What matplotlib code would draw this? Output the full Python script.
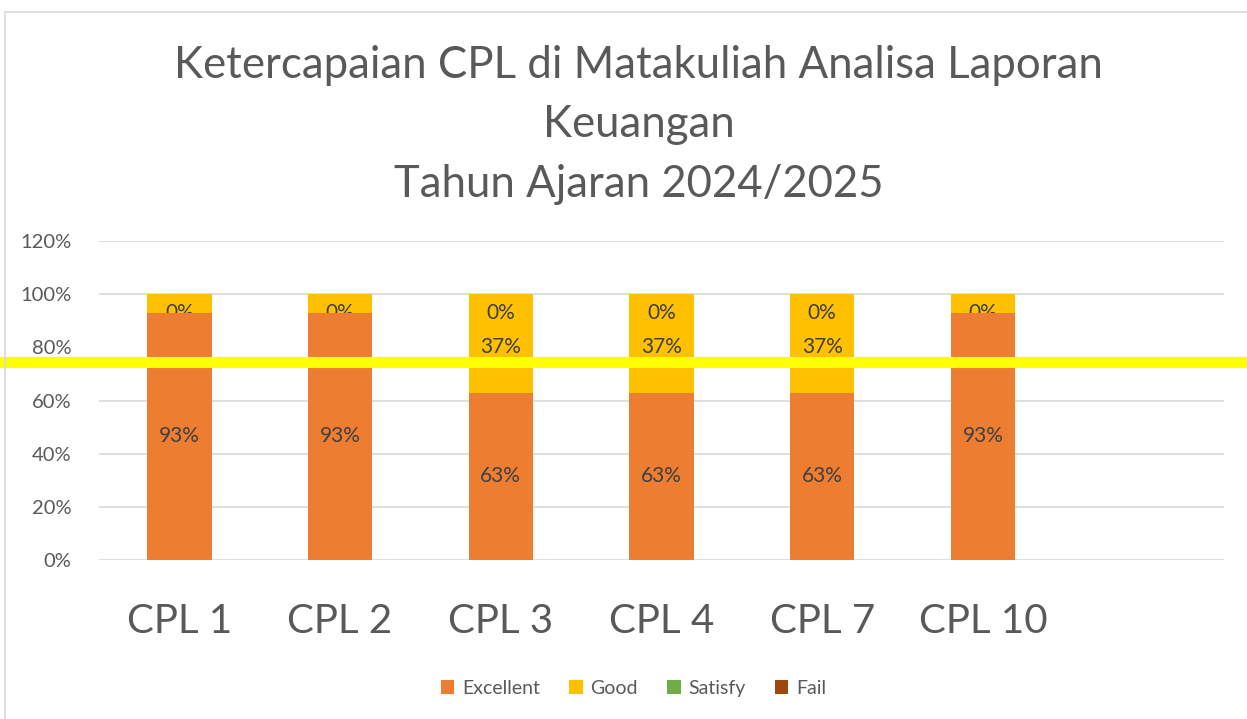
import numpy as np
import matplotlib
matplotlib.use("Agg")
import matplotlib.pyplot as plt
from matplotlib.patches import Rectangle

plt.rcParams['font.family'] = ['Lato', 'DejaVu Sans']

# data
categories = ["CPL 1", "CPL 2", "CPL 3", "CPL 4", "CPL 7", "CPL 10", ""]
excellent = [93, 93, 63, 63, 63, 93, 0]
good = [7, 7, 37, 37, 37, 7, 0]
satisfy = [0, 0, 0, 0, 0, 0, 0]
fail = [0, 0, 0, 0, 0, 0, 0]
series_names = ["Excellent", "Good", "Satisfy", "Fail"]
colors = ["#ED7D31", "#FFC000", "#70AD47", "#9E480E"]
target = 74.5
title = "Ketercapaian CPL di Matakuliah Analisa Laporan\nKeuangan\nTahun Ajaran 2024/2025"

txt = "#595959"
lbl = "#404040"

fig = plt.figure(figsize=(12.47, 7.19), dpi=100)
fig.add_artist(Rectangle((5 / 1247, -0.01), 1.0, 1 - 12 / 719 + 0.01,
                         transform=fig.transFigure, fill=False,
                         edgecolor="#D9D9D9", linewidth=1.2))
ax = fig.add_axes([0.0794, 0.2211, 0.9021, 0.4437])

x = np.arange(len(categories))
n = 6  # bars with data
w = 0.40
ex = np.array(excellent, dtype=float)
gd = np.array(good, dtype=float)
sa = np.array(satisfy, dtype=float)
fl = np.array(fail, dtype=float)

ax.bar(x, gd, w, bottom=ex, color=colors[1], label=series_names[1], zorder=2)
ax.bar(x, sa, w, bottom=ex + gd, color=colors[2], label=series_names[2], zorder=2)
ax.bar(x, fl, w, bottom=ex + gd + sa, color=colors[3], label=series_names[3], zorder=2)
ax.bar(x, ex, w, color=colors[0], label=series_names[0], zorder=3)

for i in range(n):
    ax.text(x[i], ex[i] / 2, f"{excellent[i]}%", ha="center", va="center",
            fontsize=15, color=lbl, zorder=5)
    if good[i] > 10:
        ax.text(x[i], ex[i] + gd[i] / 2 - 1.5, f"{good[i]}%", ha="center", va="center",
                fontsize=15, color=lbl, zorder=5)
    # zero labels sit at top and get partly hidden
    ax.text(x[i], 93, f"{satisfy[i]}%", ha="center", va="center",
            fontsize=15, color=lbl, zorder=2.5)

ax.axhline(target, xmin=-0.1, xmax=1.1, color="#FFFF00", linewidth=8, zorder=6,
           clip_on=False)

ax.set_ylim(0, 120)
ax.set_xlim(-0.5, len(categories) - 0.5)
ax.set_yticks([0, 20, 40, 60, 80, 100, 120])
ax.set_yticklabels([f"{v}%" for v in [0, 20, 40, 60, 80, 100, 120]])
for v in [0, 20, 40, 60, 100, 120]:
    ax.axhline(v, color="#D9D9D9", linewidth=1.2, zorder=1)
ax.set_xticks(x)
ax.set_xticklabels(categories, fontsize=29, color=txt)
ax.tick_params(axis="y", labelsize=14.5, colors=txt, length=0, pad=20)
ax.tick_params(axis="x", length=0, pad=31)
for s in ax.spines.values():
    s.set_visible(False)

fig.text(0.512, 0.937, title, ha="center", va="top", fontsize=31.5, color=txt,
         linespacing=1.55)

h, l = ax.get_legend_handles_labels()
order = [3, 0, 1, 2]
fig.legend([h[k] for k in order], [l[k] for k in order], loc="center",
           bbox_to_anchor=(0.508, 0.043), ncol=4, frameon=False, fontsize=14,
           labelcolor=txt, handlelength=0.7, handleheight=0.7, columnspacing=1.5,
           handletextpad=0.4)

fig.savefig("out.png", dpi=100)
